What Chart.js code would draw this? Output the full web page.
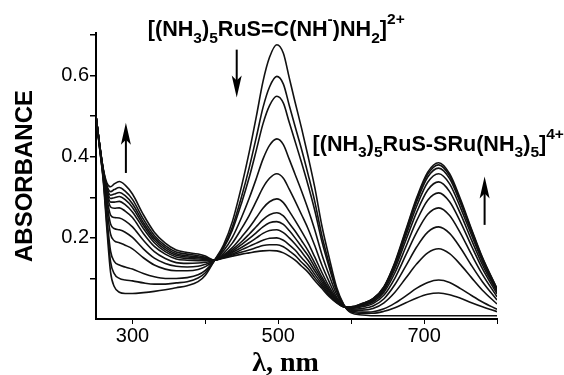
<!DOCTYPE html>
<html lang="en">
<head>
<meta charset="UTF-8">
<title>Absorbance spectra</title>
<script src="https://cdn.jsdelivr.net/npm/chart.js"></script>
<style>
    html, body { margin: 0; padding: 0; background: #fff; }
</style>
</head>
<body>
<canvas id="spectra" width="564" height="375"></canvas>
<script>
const wavelengths = [250, 255, 260, 265, 270, 275, 282, 290, 300, 315, 330, 345, 360, 375, 390, 400, 412,
    425, 437, 450, 460, 470, 479, 488, 498, 507, 515, 523, 532, 541, 550, 560, 570, 580, 590, 600,
    615, 630, 645, 660, 675, 690, 705, 720, 735, 750, 765, 780, 800];

// absorbance of each scan, first to last
const scan01 = [.500, .420, .340, .220, .115, .080, .066, .063, .063, .065, .068, .072, .077, .082, .092, .108, .143,
    .183, .240, .330, .410, .500, .585, .645, .676, .655, .595, .535, .470, .400, .325, .228, .150, .078, .035, .015,
    .010, .008, .008, .008, .008, .008, .008, .008, .008, .008, .008, .008, .008];
const scan02 = [.500, .421, .344, .234, .141, .112, .100, .096, .094, .089, .086, .086, .089, .092, .101, .114, .143,
    .178, .227, .304, .372, .449, .521, .572, .598, .579, .527, .475, .418, .356, .290, .204, .135, .072, .034, .017,
    .014, .014, .019, .028, .040, .052, .061, .064, .060, .051, .040, .030, .018];
const scan03 = [.500, .422, .347, .248, .167, .142, .133, .128, .123, .112, .104, .100, .100, .102, .109, .120, .143,
    .175, .219, .288, .348, .417, .481, .526, .549, .532, .485, .438, .385, .329, .268, .190, .126, .069, .034, .019,
    .017, .018, .025, .039, .057, .076, .090, .096, .090, .075, .058, .042, .024];
const scan04 = [.500, .424, .353, .271, .209, .193, .188, .182, .173, .151, .133, .123, .119, .119, .122, .129, .144,
    .168, .201, .252, .297, .347, .394, .428, .444, .430, .394, .357, .315, .270, .220, .158, .107, .061, .033, .022,
    .022, .026, .040, .066, .101, .136, .163, .173, .161, .134, .102, .071, .037];
const scan05 = [.500, .426, .357, .285, .234, .223, .220, .214, .201, .173, .150, .137, .130, .128, .130, .135, .144,
    .162, .187, .224, .255, .291, .324, .347, .358, .347, .320, .291, .257, .222, .181, .132, .091, .054, .032, .024,
    .026, .032, .050, .085, .131, .178, .214, .227, .211, .175, .132, .092, .047];
const scan06 = [.500, .427, .360, .297, .256, .250, .249, .242, .227, .194, .166, .149, .139, .137, .138, .140, .144,
    .158, .176, .203, .225, .250, .273, .289, .296, .287, .266, .243, .216, .187, .153, .114, .079, .050, .031, .026,
    .030, .038, .059, .101, .158, .214, .258, .274, .255, .211, .159, .110, .055];
const scan07 = [.500, .428, .363, .308, .276, .273, .274, .266, .250, .211, .179, .160, .148, .145, .144, .144, .145,
    .156, .171, .191, .209, .228, .245, .257, .262, .254, .236, .217, .193, .168, .138, .103, .073, .047, .031, .027,
    .033, .042, .066, .114, .178, .243, .293, .311, .289, .239, .180, .124, .062];
const scan08 = [.500, .428, .365, .314, .288, .288, .290, .282, .264, .223, .188, .166, .153, .149, .148, .147, .145,
    .155, .167, .184, .198, .213, .227, .237, .240, .233, .218, .200, .178, .156, .128, .097, .069, .045, .031, .028,
    .035, .045, .071, .124, .194, .264, .318, .338, .314, .259, .195, .134, .067];
const scan09 = [.500, .429, .366, .319, .297, .299, .302, .294, .275, .231, .194, .171, .157, .153, .151, .149, .145,
    .153, .164, .177, .188, .200, .211, .218, .220, .213, .200, .185, .165, .144, .119, .091, .065, .044, .031, .028,
    .036, .047, .075, .131, .205, .279, .337, .358, .333, .274, .207, .142, .070];
const scan10 = [.500, .429, .367, .324, .305, .308, .312, .304, .284, .238, .200, .176, .161, .156, .153, .150, .145,
    .152, .160, .171, .179, .187, .194, .199, .200, .194, .183, .170, .151, .133, .110, .085, .061, .042, .030, .029,
    .037, .049, .078, .136, .213, .290, .350, .372, .346, .285, .215, .147, .073];
const scan11 = [.500, .429, .368, .329, .314, .319, .324, .315, .295, .246, .206, .181, .165, .160, .156, .152, .145,
    .151, .158, .165, .170, .176, .181, .183, .183, .178, .168, .157, .140, .124, .102, .080, .058, .041, .030, .030,
    .038, .050, .079, .138, .217, .296, .357, .380, .353, .291, .219, .150, .074];
const scan12 = [.500, .430, .370, .335, .326, .333, .339, .330, .308, .257, .214, .187, .170, .164, .160, .155, .145,
    .150, .155, .160, .163, .166, .168, .169, .168, .163, .155, .145, .130, .115, .095, .075, .055, .040, .030, .030,
    .038, .050, .080, .140, .220, .300, .362, .385, .358, .295, .222, .152, .075];

const scans = [scan01, scan02, scan03, scan04, scan05, scan06, scan07, scan08, scan09, scan10, scan11, scan12];

// tick marks and which of them carry a label
const xTicks = [300, 400, 500, 600, 700, 800];
const xTickLabels = [300, 500, 700];
const yTicks = [0.1, 0.2, 0.3, 0.4, 0.5, 0.6, 0.7];
const yTickLabels = [0.2, 0.4, 0.6];

// species labels and arrows, placed in data units (nm, absorbance)
const speciesLabels = [
    { nm: 321, abs: 0.697, parts: [['[(NH'], ['3', 'sub'], [')'], ['5', 'sub'], ['RuS=C(NH'], ['-', 'sup'], [')NH'], ['2', 'sub'], [']'], ['2+', 'sup']] },
    { nm: 547, abs: 0.415, parts: [['[(NH'], ['3', 'sub'], [')'], ['5', 'sub'], ['RuS-SRu(NH'], ['3', 'sub'], [')'], ['5', 'sub'], [']'], ['4+', 'sup']] }
];
const arrows = [
    { nm: 443, from: 0.664, to: 0.546 },
    { nm: 291, from: 0.360, to: 0.484 },
    { nm: 783, from: 0.232, to: 0.351 }
];

Chart.defaults.font.family = '"Liberation Sans", Arial, sans-serif';
Chart.defaults.color = '#000';

function drawRich(ctx, x, y, parts, size) {
    ctx.textBaseline = 'alphabetic';
    ctx.textAlign = 'left';
    parts.forEach(p => {
        const kind = p[1] || 'normal';
        let fs = size, dy = 0;
        if (kind === 'sub') { fs = size * 0.72; dy = size * 0.3; }
        if (kind === 'sup') { fs = size * 0.72; dy = -size * 0.55; }
        ctx.font = 'bold ' + fs + 'px "Liberation Sans", Arial, sans-serif';
        ctx.fillText(p[0], x, y + dy);
        x += ctx.measureText(p[0]).width;
    });
}

const annotations = {
    id: 'annotations',
    afterDraw(chart) {
        const { ctx, chartArea, scales: { x, y } } = chart;
        ctx.save();
        ctx.fillStyle = '#000';
        ctx.strokeStyle = '#000';

        speciesLabels.forEach(l => {
            drawRich(ctx, x.getPixelForValue(l.nm), y.getPixelForValue(l.abs), l.parts, 21.6);
        });

        arrows.forEach(a => {
            const px = x.getPixelForValue(a.nm);
            const y0 = y.getPixelForValue(a.from);
            const y1 = y.getPixelForValue(a.to);
            const dir = y1 > y0 ? 1 : -1;
            ctx.lineWidth = 2;
            ctx.beginPath();
            ctx.moveTo(px, y0);
            ctx.lineTo(px, y1 - dir * 10);
            ctx.stroke();
            ctx.beginPath();
            ctx.moveTo(px, y1);
            ctx.lineTo(px - 5, y1 - dir * 22);
            ctx.lineTo(px, y1 - dir * 17);
            ctx.lineTo(px + 5, y1 - dir * 22);
            ctx.closePath();
            ctx.fill();
        });

        // x axis title
        ctx.font = 'bold 28px "Liberation Serif", "Times New Roman", serif';
        ctx.textAlign = 'center';
        ctx.textBaseline = 'alphabetic';
        ctx.fillText('\u03bb, nm', x.getPixelForValue(510), chartArea.bottom + 52);
        ctx.restore();
    }
};

new Chart(document.getElementById('spectra'), {
    type: 'line',
    data: {
        datasets: scans.map((s, i) => ({
            label: 'scan ' + (i + 1),
            data: wavelengths.map((w, j) => ({ x: w, y: s[j] })),
            borderColor: '#111',
            borderWidth: 1.6,
            pointRadius: 0,
            fill: false,
            cubicInterpolationMode: 'monotone'
        }))
    },
    options: {
        responsive: false,
        animation: false,
        devicePixelRatio: 1,
        layout: { padding: { top: 33, right: 67, bottom: 0, left: 0 } },
        plugins: {
            legend: { display: false },
            tooltip: { enabled: false }
        },
        scales: {
            x: {
                type: 'linear',
                min: 250,
                max: 800,
                afterFit(scale) { scale.height = 56; },
                afterBuildTicks(scale) { scale.ticks = xTicks.map(v => ({ value: v })); },
                ticks: {
                    autoSkip: false,
                    maxRotation: 0,
                    padding: 0,
                    font: { size: 20 },
                    callback: v => xTickLabels.includes(v) ? String(v) : ''
                },
                grid: { drawOnChartArea: false, drawTicks: true, tickLength: 5, color: '#000', lineWidth: 1 },
                border: { display: true, color: '#000', width: 2 }
            },
            y: {
                min: 0,
                max: 0.705,
                afterFit(scale) { scale.width = 96; },
                afterBuildTicks(scale) { scale.ticks = yTicks.map(v => ({ value: v })); },
                ticks: {
                    padding: 1,
                    font: { size: 20 },
                    callback: v => yTickLabels.some(t => Math.abs(t - v) < 1e-6) ? v.toFixed(1) : ''
                },
                grid: { drawOnChartArea: false, drawTicks: true, tickLength: 6, color: '#000', lineWidth: 1.5 },
                border: { display: true, color: '#000', width: 2 },
                title: {
                    display: true,
                    text: 'ABSORBANCE',
                    font: { size: 24, weight: 'bold' },
                    padding: { top: 11, bottom: 0 }
                }
            }
        }
    },
    plugins: [annotations]
});
</script>
</body>
</html>
